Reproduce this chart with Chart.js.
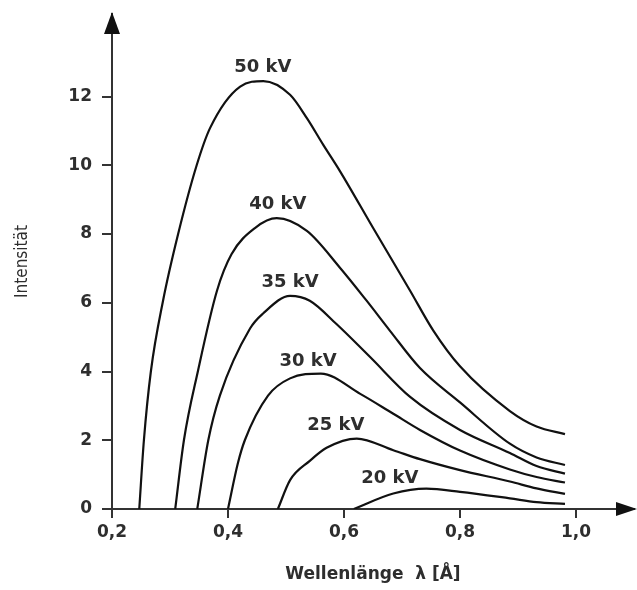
<!DOCTYPE html>
<html>
<head>
<meta charset="utf-8">
<script src="https://cdn.jsdelivr.net/npm/chart.js@4/dist/chart.umd.min.js"></script>
<style>
  html, body { margin: 0; padding: 0; background: #fff; }
  #wrap { width: 637px; height: 590px; }
</style>
</head>
<body>
<div id="wrap"><canvas id="chart"></canvas></div>
<script>
// Wellenlänge (Å) und Intensität je Röhrenspannung
const lambda50 = [0.247, 0.255, 0.267, 0.288, 0.314, 0.346, 0.369, 0.421, 0.461, 0.507, 0.536, 0.564, 0.593, 0.650, 0.714, 0.754, 0.800, 0.886, 0.932, 0.981];
const int50    = [0, 2.00, 4.00, 6.06, 8.00, 10.00, 11.08, 12.29, 12.45, 12.05, 11.37, 10.60, 9.83, 8.18, 6.35, 5.19, 4.15, 2.85, 2.40, 2.18];

const lambda40 = [0.309, 0.324, 0.348, 0.381, 0.406, 0.447, 0.484, 0.536, 0.593, 0.639, 0.679, 0.731, 0.800, 0.886, 0.932, 0.981];
const int40    = [0, 2.00, 4.00, 6.35, 7.41, 8.18, 8.46, 8.09, 7.02, 6.06, 5.19, 4.10, 3.10, 1.90, 1.50, 1.28];

const lambda35 = [0.347, 0.366, 0.386, 0.438, 0.460, 0.507, 0.541, 0.587, 0.645, 0.714, 0.800, 0.886, 0.932, 0.981];
const int35    = [0, 2.00, 3.30, 5.25, 5.68, 6.20, 6.06, 5.38, 4.42, 3.26, 2.30, 1.63, 1.25, 1.03];

const lambda30 = [0.400, 0.417, 0.429, 0.469, 0.507, 0.560, 0.628, 0.685, 0.731, 0.800, 0.886, 0.932, 0.981];
const int30    = [0, 1.33, 2.00, 3.30, 3.80, 3.94, 3.35, 2.77, 2.30, 1.70, 1.15, 0.93, 0.77];

const lambda25 = [0.486, 0.507, 0.541, 0.570, 0.622, 0.685, 0.731, 0.800, 0.886, 0.932, 0.981];
const int25    = [0, 0.84, 1.40, 1.78, 2.05, 1.71, 1.45, 1.13, 0.80, 0.60, 0.44];

const lambda20 = [0.617, 0.685, 0.742, 0.800, 0.886, 0.932, 0.981];
const int20    = [0, 0.45, 0.59, 0.50, 0.31, 0.20, 0.15];

// Beschriftung der Kurven
const curveLabels = ['50 kV', '40 kV', '35 kV', '30 kV', '25 kV', '20 kV'];
const labelLambda = [0.460, 0.486, 0.507, 0.538, 0.586, 0.679];
const labelInt    = [12.84, 8.87, 6.58, 4.29, 2.43, 0.90];

const xTicks = [0.2, 0.4, 0.6, 0.8, 1.0];
const yTicks = [0, 2, 4, 6, 8, 10, 12];

const axisColor = '#333';
const textColor = '#2e2e2e';
const mainFont = '"DejaVu Sans", sans-serif';

function toPoints(xs, ys) {
  return xs.map((x, i) => ({ x: x, y: ys[i] }));
}

const series = [
  toPoints(lambda50, int50),
  toPoints(lambda40, int40),
  toPoints(lambda35, int35),
  toPoints(lambda30, int30),
  toPoints(lambda25, int25),
  toPoints(lambda20, int20)
];

// Pfeilspitzen an den Achsenenden
const arrowPlugin = {
  id: 'arrows',
  afterDraw(chart) {
    const { ctx, chartArea } = chart;
    const ax = chart.scales.x.getPixelForValue(0.2);
    const ay = chart.scales.y.getPixelForValue(0);
    ctx.save();
    ctx.fillStyle = '#111';
    ctx.beginPath();
    ctx.moveTo(ax, chartArea.top - 2);
    ctx.lineTo(ax - 8, chartArea.top + 20);
    ctx.lineTo(ax + 8, chartArea.top + 20);
    ctx.closePath();
    ctx.fill();
    ctx.beginPath();
    ctx.moveTo(chart.width, ay);
    ctx.lineTo(chart.width - 21, ay - 7);
    ctx.lineTo(chart.width - 21, ay + 7);
    ctx.closePath();
    ctx.fill();
    ctx.restore();
  }
};

const curveLabelPlugin = {
  id: 'curveLabels',
  afterDatasetsDraw(chart) {
    const { ctx } = chart;
    ctx.save();
    ctx.font = 'bold 18px ' + mainFont;
    ctx.fillStyle = textColor;
    ctx.textAlign = 'center';
    ctx.textBaseline = 'middle';
    curveLabels.forEach((t, i) => {
      ctx.fillText(t, chart.scales.x.getPixelForValue(labelLambda[i]), chart.scales.y.getPixelForValue(labelInt[i]));
    });
    ctx.restore();
  }
};

new Chart(document.getElementById('chart'), {
  type: 'line',
  data: {
    datasets: series.map((pts, i) => ({
      label: curveLabels[i],
      data: pts,
      borderColor: '#111',
      borderWidth: 2.2,
      pointRadius: 0,
      fill: false,
      cubicInterpolationMode: 'monotone'
    }))
  },
  options: {
    responsive: true,
    maintainAspectRatio: false,
    animation: false,
    layout: { padding: { top: 14, right: 3, left: 0, bottom: 0 } },
    plugins: {
      legend: { display: false },
      tooltip: { enabled: false }
    },
    scales: {
      x: {
        type: 'linear',
        min: 0.2,
        max: 1.1,
        afterBuildTicks: (scale) => { scale.ticks = xTicks.map(v => ({ value: v })); },
        afterFit: (scale) => {
          scale.height = 81;
          scale.paddingLeft = 0;
          scale.paddingRight = 0;
        },
        ticks: {
          callback: (v) => Number(v).toFixed(1).replace('.', ','),
          font: { family: mainFont, size: 17, weight: 'bold' },
          color: textColor,
          padding: 4,
          maxRotation: 0
        },
        grid: { drawOnChartArea: false, tickLength: 9, color: axisColor, lineWidth: 2 },
        border: { color: axisColor, width: 2 },
        title: {
          display: true,
          text: 'Wellenlänge  λ [Å]',
          font: { family: mainFont, size: 17, weight: 'bold' },
          color: textColor,
          padding: { top: 0, bottom: 5 }
        }
      },
      y: {
        type: 'linear',
        min: 0,
        max: 14.4,
        afterBuildTicks: (scale) => { scale.ticks = yTicks.map(v => ({ value: v })); },
        afterFit: (scale) => {
          scale.width = 112;
          scale.paddingTop = 0;
          scale.paddingBottom = 0;
        },
        ticks: {
          font: { family: mainFont, size: 17, weight: 'bold' },
          color: textColor,
          padding: 10
        },
        grid: { drawOnChartArea: false, tickLength: 10, color: axisColor, lineWidth: 2 },
        border: { color: axisColor, width: 2 },
        title: {
          display: true,
          text: 'Intensität',
          font: { family: '"DejaVu Sans Condensed", "Liberation Sans Narrow", "Roboto", sans-serif', size: 17 },
          color: textColor,
          padding: { top: 12, bottom: 0 }
        }
      }
    }
  },
  plugins: [arrowPlugin, curveLabelPlugin]
});
</script>
</body>
</html>
